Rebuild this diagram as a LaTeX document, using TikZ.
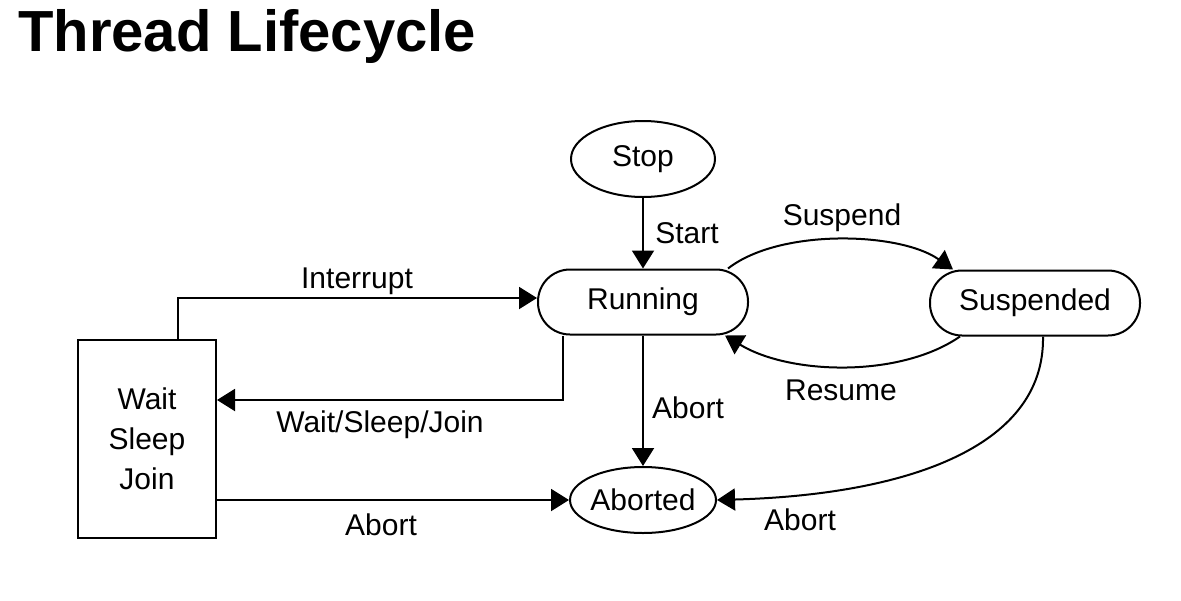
\documentclass[tikz,border=0pt]{standalone}
\usepackage{fontspec}
\setmainfont{Liberation Sans}
\usetikzlibrary{arrows.meta,shapes.geometric}
\tikzset{
	state/.style={draw, line width=2pt, ellipse, inner xsep=-10pt, inner ysep=0pt, font=\fontsize{30}{36}\selectfont},
	pill/.style={draw, line width=2pt, rounded corners=32, minimum width=210, minimum height=65, font=\fontsize{30}{36}\selectfont},
	arr/.style={line width=2pt, -{Triangle[length=18pt,width=22pt]}},
	lbl/.style={anchor=base, inner sep=0pt, font=\fontsize{30}{36}\selectfont}
}

\begin{document}
\begin{tikzpicture}[x=1pt, y=-1pt]
			%%%%% START %%%%%
			\useasboundingbox (0, 0) rectangle (1181, 600);
			
			\node[anchor=base west, inner sep=0pt, font=\fontsize{58}{70}\selectfont\bfseries] (title) at (18, 51) {Thread Lifecycle};
			
			\node[state, minimum width=144, minimum height=76] (stop) at (643, 159) {Stop};
			\node[pill] (running) at (643, 302) {Running};
			\node[pill] (suspended) at (1035, 303) {Suspended};
			\node[state, minimum width=146, minimum height=66] (aborted) at (643, 500) {Aborted};
			\node[draw, line width=2pt, minimum width=138, minimum height=198, align=center, font=\fontsize{30}{40}\selectfont] (wait) at (147, 439) {Wait\\Sleep\\Join};
			
			\draw[arr] (stop) -- (running);
			\draw[arr] (running) -- (aborted);
			\draw[arr] ([xshift=-21]running.north east) .. controls (780, 228) and (900, 232) .. ([xshift=-82]suspended.north);
			\draw[arr] ([xshift=-75]suspended.south) .. controls (900, 378) and (790, 375) .. ([xshift=-24]running.south east);
			\draw[arr] ([xshift=8]suspended.south) .. controls (1045, 450) and (900, 495) .. (aborted.east);
			
			\draw[arr] ([xshift=31]wait.north) |- ([yshift=4]running.west);
			\draw[arr] ([xshift=-80]running.south) |- ([yshift=39]wait.east);
			\draw[arr] (wait.east |- aborted.west) -- (aborted.west);
			
			\node[lbl] (lstart) at (687, 243) {Start};
			\node[lbl] (lsuspend) at (842, 225) {Suspend};
			\node[lbl] (lresume) at (841, 400) {Resume};
			\node[lbl] (labort) at (688, 418) {Abort};
			\node[lbl] (labortsusp) at (800, 530) {Abort};
			\node[lbl] (linterrupt) at (357, 288) {Interrupt};
			\node[lbl] (lwsj) at (380, 432) {Wait/Sleep/Join};
			\node[lbl] (labortwait) at (381, 535) {Abort};
			
			%%%%% END %%%%%
		\end{tikzpicture}
\end{document}
